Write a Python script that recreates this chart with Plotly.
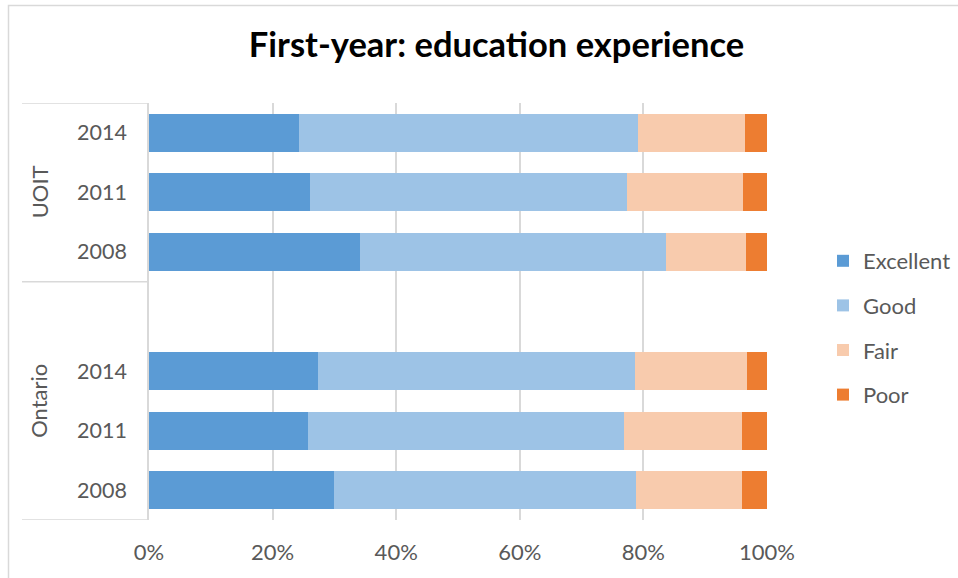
import plotly.graph_objects as go

# Survey results: share of first-year students rating their education experience
groups = ["UOIT", "UOIT", "UOIT", "Ontario", "Ontario", "Ontario"]
years = ["2014", "2011", "2008", "2014", "2011", "2008"]
excellent = [24.2, 26.0, 34.2, 27.4, 25.8, 29.9]
good = [54.9, 51.3, 49.5, 51.3, 51.0, 48.9]
fair = [17.3, 18.8, 12.9, 18.1, 19.1, 17.1]
poor = [3.6, 3.9, 3.4, 3.2, 4.1, 4.1]

x_ticks = [0, 20, 40, 60, 80, 100]
x_tick_labels = ["0%", "20%", "40%", "60%", "80%", "100%"]

series = [
    ("Excellent", excellent, "#5B9BD5"),
    ("Good", good, "#9DC3E6"),
    ("Fair", fair, "#F8CBAD"),
    ("Poor", poor, "#ED7D31"),
]

TEXT = "#595959"
GRID = "#D9D9D9"
FONT = "Lato"

# Row slots from the top; an empty slot separates the two groups
slots = []
slot = -1
for i, g in enumerate(groups):
    slot += 1
    if i > 0 and g != groups[i - 1]:
        slot += 1
    slots.append(slot)
n_slots = slot + 1
ypos = [n_slots - 1 - s for s in slots]

fig = go.Figure()
for name, vals, color in series:
    fig.add_trace(go.Bar(
        y=ypos, x=vals, name=name, orientation="h",
        marker=dict(color=color, line=dict(width=0)),
        width=0.64, legendgroup=name,
        hovertemplate="%{x:.1f}%<extra>" + name + "</extra>",
    ))

# Plot area in pixels
W, H = 958, 578
L, R, T, B = 149, 767, 103, 520
pw, ph = R - L, B - T

def px_x(px):
    return (px - L) / pw

def px_y(py):
    return (B - py) / ph

shapes = []
# Outer chart frame
shapes.append(dict(type="rect", xref="paper", yref="paper",
                   x0=px_x(8.5), x1=px_x(990), y0=px_y(5.5), y1=px_y(610),
                   line=dict(color=GRID, width=1.5), fillcolor="rgba(0,0,0,0)",
                   layer="below"))
# Group dividers on the category axis
unique_groups = []
for g in groups:
    if g not in unique_groups:
        unique_groups.append(g)
bounds = [n_slots - 0.5]
for g in unique_groups:
    idx = [ypos[i] for i in range(len(groups)) if groups[i] == g]
    bounds.append(min(idx) - 0.5)
for b in bounds:
    shapes.append(dict(type="line", xref="paper", yref="y",
                       x0=px_x(22), x1=0, y0=b, y1=b,
                       line=dict(color=GRID, width=1.5)))

annotations = []
for gi, g in enumerate(unique_groups):
    idx = [ypos[i] for i in range(len(groups)) if groups[i] == g]
    top = max(idx) + 0.5
    bot = min(idx) - 0.5
    if gi > 0:
        top += 1  # include the spacer slot above
    annotations.append(dict(text=g, xref="paper", yref="y",
                            x=px_x(39), y=(top + bot) / 2, textangle=-90,
                            showarrow=False, xanchor="center", yanchor="middle",
                            font=dict(family=FONT, size=22, color=TEXT)))

fig.update_layout(
    width=W, height=H,
    margin=dict(l=L, r=W - R, t=T, b=H - B, autoexpand=False),
    paper_bgcolor="white", plot_bgcolor="white",
    barmode="stack",
    title=dict(text="<b>First-year: education experience</b>",
               x=496.5 / W, xanchor="center", xref="container",
               y=1 - 45 / H, yanchor="middle", yref="container",
               font=dict(family=FONT, size=34.5, color="#000000")),
    xaxis=dict(type="linear", range=[0, 100], tickmode="array",
               tickvals=x_ticks, ticktext=x_tick_labels,
               showgrid=True, gridcolor=GRID, gridwidth=1.5,
               zeroline=False, showline=False, ticks="",
               ticklabelstandoff=17,
               tickfont=dict(family=FONT, size=22, color=TEXT), fixedrange=True),
    yaxis=dict(type="linear", range=[-0.5, n_slots - 0.5], tickmode="array",
               tickvals=ypos, ticktext=years,
               showgrid=False, zeroline=False, showline=True,
               linecolor=GRID, linewidth=1.5, ticks="",
               ticklabelstandoff=16,
               tickfont=dict(family=FONT, size=21.5, color=TEXT), fixedrange=True),
    legend=dict(x=823 / W, y=1 - 328 / H, xref="container", yref="container",
                xanchor="left", yanchor="middle",
                traceorder="grouped", tracegroupgap=13,
                font=dict(family=FONT, size=22, color=TEXT),
                bgcolor="rgba(0,0,0,0)"),
    shapes=shapes, annotations=annotations,
)

fig.write_html("out.html")
